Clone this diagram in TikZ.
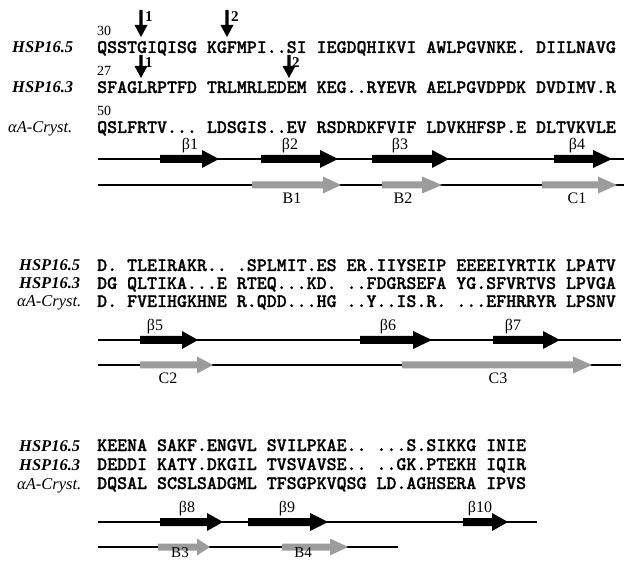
\documentclass[tikz,border=0pt]{standalone}
\usepackage{fontspec}
\setmainfont{Liberation Serif}
\newfontfamily\seqfont{lmmonolt10-bold.otf}[FakeBold=1.2]
\newcommand\bstrand[4]{\fill[black] (#1,#4-4) -- (#2,#4-4) -- (#2,#4-9) -- (#3,#4) -- (#2,#4+9) -- (#2,#4+4) -- (#1,#4+4) -- cycle;}
\newcommand\gstrand[4]{\fill[strandgray] (#1,#4-3.5) -- (#2,#4-3.5) -- (#2,#4-8.5) -- (#3,#4) -- (#2,#4+8.5) -- (#2,#4+3.5) -- (#1,#4+3.5) -- cycle;}
\newcommand\mydarrow[4]{\fill[black] (#1-1.6,#2) -- (#1+1.6,#2) -- (#1+1.6,#3) -- (#1+6.5,#3) -- (#1,#4) -- (#1-6.5,#3) -- (#1-1.6,#3) -- cycle;}
\definecolor{strandgray}{HTML}{9C9C9C}
\begin{document}
\frenchspacing
\begin{tikzpicture}[x=1pt,y=-1pt,
  seq/.style={anchor=base west,inner sep=0pt,font=\seqfont\fontsize{19}{19}\selectfont},
  hsp/.style={anchor=base west,inner sep=0pt,font=\bfseries\itshape\fontsize{16.5}{16.5}\selectfont},
  cry/.style={anchor=base west,inner sep=0pt,font=\itshape\fontsize{16.5}{16.5}\selectfont},
  num/.style={anchor=base west,inner sep=0pt,font=\fontsize{14}{14}\selectfont},
  site/.style={anchor=west,inner sep=0pt,font=\bfseries\fontsize{15}{15}\selectfont},
  slab/.style={inner sep=0pt,font=\fontsize{16}{16}\selectfont},
  bline/.style={line width=1.6pt}]
\useasboundingbox (0,0) rectangle (624,561);

% ---------- block 1 ----------
\node[num] (n30) at (97,36) {30};
\node[num] (n27) at (97,76) {27};
\node[num] (n50) at (97,116) {50};
\node[hsp] (a1) at (12,53) {HSP16.5};
\node[hsp] (a2) at (12,93) {HSP16.3};
\node[cry] (a3) at (8,133) {αA-Cryst.};
\node[seq] (s11) at (97,53) {QSSTGIQISG KGFMPI..SI IEGDQHIKVI AWLPGVNKE. DIILNAVG};
\node[seq] (s12) at (97,93) {SFAGLRPTFD TRLMRLEDEM KEG..RYEVR AELPGVDPDK DVDIMV.R};
\node[seq] (s13) at (97,133) {QSLFRTV... LDSGIS..EV RSDRDKFVIF LDVKHFSP.E DLTVKVLE};

\mydarrow{141}{10}{25}{37}
\node[site] (m1a) at (145,17) {1};
\mydarrow{227}{10}{25}{37}
\node[site] (m2a) at (231,17) {2};
\mydarrow{141}{55}{66}{78}
\node[site] (m1b) at (145,63) {1};
\mydarrow{289}{55}{66}{78}
\node[site] (m2b) at (292,63) {2};

\coordinate (l1s) at (98,159); \coordinate (l1e) at (624,159);
\coordinate (g1s) at (98,185); \coordinate (g1e) at (624,185);
\draw[bline] (l1s) -- (l1e);
\draw[bline] (g1s) -- (g1e);
\bstrand{160}{202}{219}{159}
\bstrand{261}{320}{338}{159}
\bstrand{372}{432}{449}{159}
\bstrand{554}{593}{612}{159}
\gstrand{252}{323}{341}{185}
\gstrand{382}{422}{442}{185}
\gstrand{542}{598}{617}{185}
\node[slab] (b1) at (190,146) {β1};
\node[slab] (b2) at (290,146) {β2};
\node[slab] (b3) at (400,146) {β3};
\node[slab] (b4) at (577,146) {β4};
\node[slab] (B1) at (292,198) {B1};
\node[slab] (B2) at (403,198) {B2};
\node[slab] (C1) at (577,198) {C1};

% ---------- block 2 ----------
\node[hsp] (c1) at (19,271) {HSP16.5};
\node[hsp] (c2) at (19,289) {HSP16.3};
\node[cry] (c3) at (17,307) {αA-Cryst.};
\node[seq] (s21) at (97,271) {D. TLEIRAKR.. .SPLMIT.ES ER.IIYSEIP EEEEIYRTIK LPATV};
\node[seq] (s22) at (97,289) {DG QLTIKA...E RTEQ...KD. ..FDGRSEFA YG.SFVRTVS LPVGA};
\node[seq] (s23) at (97,307) {D. FVEIHGKHNE R.QDD...HG ..Y..IS.R. ...EFHRRYR LPSNV};

\coordinate (l2s) at (98,340); \coordinate (l2e) at (621,340);
\coordinate (g2s) at (98,365); \coordinate (g2e) at (621,365);
\draw[bline] (l2s) -- (l2e);
\draw[bline] (g2s) -- (g2e);
\bstrand{140}{182}{198}{340}
\bstrand{360}{413}{432}{340}
\bstrand{493}{543}{560}{340}
\gstrand{140}{197}{213}{365}
\gstrand{402}{573}{592}{365}
\node[slab] (b5) at (155,327) {β5};
\node[slab] (b6) at (388,327) {β6};
\node[slab] (b7) at (513,327) {β7};
\node[slab] (C2) at (168,378) {C2};
\node[slab] (C3) at (498,378) {C3};

% ---------- block 3 ----------
\node[hsp] (d1) at (19,451) {HSP16.5};
\node[hsp] (d2) at (19,470) {HSP16.3};
\node[cry] (d3) at (17,489) {αA-Cryst.};
\node[seq] (s31) at (97,451) {KEENA SAKF.ENGVL SVILPKAE.. ...S.SIKKG INIE};
\node[seq] (s32) at (97,470) {DEDDI KATY.DKGIL TVSVAVSE.. ..GK.PTEKH IQIR};
\node[seq] (s33) at (97,489) {DQSAL SCSLSADGML TFSGPKVQSG LD.AGHSERA IPVS};

\coordinate (l3s) at (98,522); \coordinate (l3e) at (537,522);
\coordinate (g3s) at (98,547); \coordinate (g3e) at (398,547);
\draw[bline] (l3s) -- (l3e);
\draw[bline] (g3s) -- (g3e);
\bstrand{160}{207}{223}{522}
\bstrand{248}{310}{328}{522}
\bstrand{463}{492}{508}{522}
\gstrand{158}{197}{210}{547}
\gstrand{282}{330}{348}{547}
\node[slab] (b8) at (187,509) {β8};
\node[slab] (b9) at (287,509) {β9};
\node[slab] (b10) at (480,509) {β10};
\node[slab,font=\fontsize{15}{15}\selectfont] (B3) at (180,553) {B3};
\node[slab,font=\fontsize{15}{15}\selectfont] (B4) at (303,553) {B4};
\end{tikzpicture}
\end{document}
